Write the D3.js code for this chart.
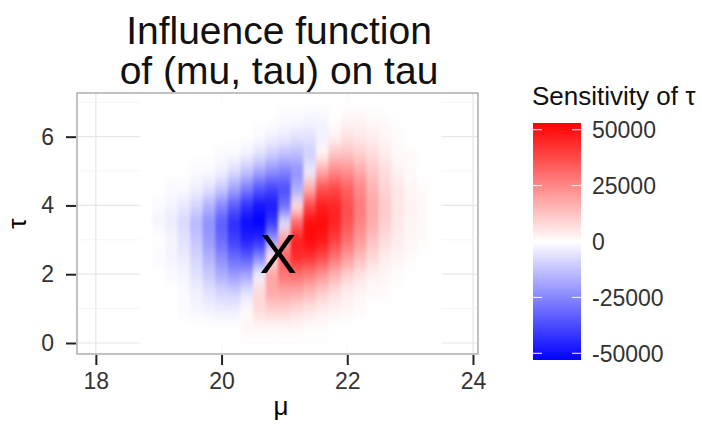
<!DOCTYPE html>
<html lang="en">
<head>
<meta charset="UTF-8">
<title>Influence function of (mu, tau) on tau</title>
<script src="https://d3js.org/d3.v7.min.js"></script>
<style>
    body { margin: 0; background: #fff; }
    svg { display: block; font-family: "Liberation Sans", Arial, Helvetica, sans-serif; }
</style>
</head>
<body>
<svg width="702" height="426"></svg>
<script>
    // Grid of mu (columns) and tau (rows)
    const muValues = [18.8, 19.0, 19.2, 19.4, 19.6, 19.8, 20.0, 20.2, 20.4, 20.6, 20.8, 21.0,
                      21.2, 21.4, 21.6, 21.8, 22.0, 22.2, 22.4, 22.6, 22.8, 23.0, 23.2, 23.4];
    const tauValues = [0.0, 0.5, 1.0, 1.5, 2.0, 2.5, 3.0, 3.5, 4.0, 4.5, 5.0, 5.5, 6.0, 6.5, 7.0];

    // Sensitivity of tau, in thousands (one row per tau value, one column per mu value)
    const sensitivityK = [
        [0, 0, 0, 0, 0, 0, 0, 0, 0, 0, 0, 0, 0, 0, 0, 0, 0, 0, 0, 0, 0, 0, 0, 0],
        [0, 0, 0, 0, 0, 0, 0, 0, 2, 2, 2, 2, 2, 1, 1, 0, 0, 0, 0, 0, 0, 0, 0, 0],
        [0, 0, 0, -1, -2, -3, -4, -4, 1, 8, 10, 10, 8, 6, 4, 3, 2, 1, 0, 0, 0, 0, 0, 0],
        [0, 0, 0, -1, -3, -6, -9, -10, -6, 8, 18, 19, 18, 15, 11, 7, 4, 2, 1, 1, 0, 0, 0, 0],
        [0, 0, -1, -2, -6, -11, -17, -21, -19, -3, 19, 29, 30, 27, 22, 16, 10, 6, 3, 2, 1, 0, 0, 0],
        [0, -1, -2, -4, -9, -16, -24, -31, -34, -25, 5, 33, 44, 43, 38, 29, 21, 14, 8, 4, 2, 1, 0, 0],
        [0, 0, -2, -6, -12, -21, -31, -40, -46, -44, -20, 20, 47, 51, 48, 40, 30, 21, 13, 7, 4, 2, 1, 0],
        [0, -2, -4, -8, -15, -23, -34, -44, -51, -53, -41, -6, 32, 51, 51, 46, 36, 26, 17, 10, 5, 2, 1, 0],
        [0, -1, -2, -5, -9, -16, -25, -34, -43, -49, -48, -30, 6, 38, 47, 45, 37, 27, 18, 11, 5, 3, 1, 0],
        [0, 0, -1, -1, -3, -6, -11, -19, -27, -35, -39, -37, -17, 17, 36, 38, 33, 25, 16, 9, 5, 2, 1, 0],
        [0, 0, 0, 0, -1, -1, -3, -7, -12, -18, -23, -26, -23, -4, 18, 25, 23, 18, 12, 7, 3, 1, 0, 0],
        [0, 0, 0, 0, 0, 0, -1, -1, -3, -6, -10, -13, -14, -10, 2, 12, 13, 10, 7, 4, 1, 1, 0, 0],
        [0, 0, 0, 0, 0, 0, 0, 0, 0, -1, -3, -4, -6, -6, -3, 3, 6, 5, 4, 2, 1, 0, 0, 0],
        [0, 0, 0, 0, 0, 0, 0, 0, 0, 0, 0, -1, -1, -2, -2, 0, 2, 2, 1, 1, 0, 0, 0, 0],
        [0, 0, 0, 0, 0, 0, 0, 0, 0, 0, 0, 0, 0, 0, 0, 0, 0, 0, 0, 0, 0, 0, 0, 0]
    ];

    const muTicks = [18, 20, 22, 24];
    const tauTicks = [0, 2, 4, 6];
    const legendTicks = [50000, 25000, 0, -25000, -50000];
    const estimate = [20.9, 2.62];   // (mu, tau) marked with an X
    const titleLines = ["Influence function", "of (mu, tau) on tau"];

    const svg = d3.select("svg");
    const panel = { left: 77, right: 478, top: 93, bottom: 354 };

    const x = d3.scaleLinear().domain([17.7, 24.08]).range([panel.left, panel.right]);
    const y = d3.scaleLinear().domain([-0.32, 7.27]).range([panel.bottom, panel.top]);

    // Flatten the grid into cells
    const cells = [];
    tauValues.forEach((t, i) => {
        muValues.forEach((m, j) => cells.push({ mu: m, tau: t, value: sensitivityK[i][j] * 1000 }));
    });
    const muStep = muValues[1] - muValues[0];
    const tauStep = tauValues[1] - tauValues[0];

    const maxAbs = d3.max(cells, d => Math.abs(d.value));
    const color = d3.scaleLinear()
        .domain([-maxAbs, 0, maxAbs])
        .range(["#0000ff", "#ffffff", "#ff0000"])
        .interpolate(d3.interpolateRgb)
        .clamp(true);

    const defs = svg.append("defs");
    defs.append("clipPath").attr("id", "panel-clip")
        .append("rect")
        .attr("x", panel.left).attr("y", panel.top)
        .attr("width", panel.right - panel.left).attr("height", panel.bottom - panel.top);

    // smooth the raster mostly along tau, like the original image
    const blur = defs.append("filter").attr("id", "smooth")
        .attr("x", "-5%").attr("y", "-5%").attr("width", "110%").attr("height", "110%")
        .attr("color-interpolation-filters", "sRGB");
    blur.append("feGaussianBlur").attr("stdDeviation", "1.4 7");

    // Panel background and grid
    svg.append("rect")
        .attr("x", panel.left).attr("y", panel.top)
        .attr("width", panel.right - panel.left).attr("height", panel.bottom - panel.top)
        .attr("fill", "#fff");

    const grid = svg.append("g").attr("clip-path", "url(#panel-clip)");
    const muGrid = x.ticks(7), tauGrid = y.ticks(8).filter(v => v >= 0);
    grid.selectAll(".vgrid").data(muGrid).join("line")
        .attr("x1", d => x(d)).attr("x2", d => x(d))
        .attr("y1", panel.top).attr("y2", panel.bottom)
        .attr("stroke", d => muTicks.includes(d) ? "#e6e6e6" : "#f2f2f2")
        .attr("stroke-width", d => muTicks.includes(d) ? 1.2 : 0.8);
    grid.selectAll(".hgrid").data(tauGrid).join("line")
        .attr("y1", d => y(d)).attr("y2", d => y(d))
        .attr("x1", panel.left).attr("x2", panel.right)
        .attr("stroke", d => tauTicks.includes(d) ? "#e6e6e6" : "#f2f2f2")
        .attr("stroke-width", d => tauTicks.includes(d) ? 1.2 : 0.8);

    // Heatmap
    const heat = svg.append("g").attr("clip-path", "url(#panel-clip)")
        .append("g").attr("filter", "url(#smooth)");
    heat.selectAll("rect").data(cells).join("rect")
        .attr("x", d => x(d.mu - muStep / 2))
        .attr("y", d => y(d.tau + tauStep / 2))
        .attr("width", d => x(d.mu + muStep / 2) - x(d.mu - muStep / 2) + 0.5)
        .attr("height", d => y(d.tau - tauStep / 2) - y(d.tau + tauStep / 2) + 0.5)
        .attr("fill", d => color(d.value));

    // Estimate marker
    svg.append("text")
        .attr("x", x(estimate[0]))
        .attr("y", y(estimate[1]))
        .attr("dy", "0.36em")
        .attr("text-anchor", "middle")
        .attr("font-size", 56)
        .attr("fill", "#000")
        .text("X");

    // Panel border
    svg.append("rect")
        .attr("x", panel.left).attr("y", panel.top)
        .attr("width", panel.right - panel.left).attr("height", panel.bottom - panel.top)
        .attr("fill", "none").attr("stroke", "#999").attr("stroke-width", 1.2);

    // Axes
    const yAxis = svg.append("g")
        .attr("transform", `translate(${panel.left - 1},0)`)
        .call(d3.axisLeft(y).tickValues(tauTicks).tickFormat(d3.format("d")).tickSize(10).tickPadding(12));
    const xAxis = svg.append("g")
        .attr("transform", `translate(0,${panel.bottom + 1})`)
        .call(d3.axisBottom(x).tickValues(muTicks).tickFormat(d3.format("d")).tickSize(10).tickPadding(8));
    [xAxis, yAxis].forEach(a => {
        a.select(".domain").remove();
        a.selectAll(".tick line").attr("stroke", "#222").attr("stroke-width", 2);
        a.selectAll(".tick text")
            .attr("fill", "#333")
            .attr("font-size", 23)
            .attr("font-family", "'Liberation Sans', Arial, Helvetica, sans-serif");
    });

    // Axis titles
    svg.append("text")
        .attr("x", 281).attr("y", 415)
        .attr("text-anchor", "middle")
        .attr("font-size", 26)
        .text("μ");
    svg.append("text")
        .attr("transform", `translate(26,${(panel.top + panel.bottom) / 2}) rotate(-90)`)
        .attr("text-anchor", "middle")
        .attr("font-size", 26)
        .text("τ");

    // Title
    svg.append("g").selectAll("text").data(titleLines).join("text")
        .attr("x", 279)
        .attr("y", (d, i) => 44 + i * 40)
        .attr("text-anchor", "middle")
        .attr("font-size", 39)
        .attr("fill", "#111")
        .text(d => d);

    // Legend (colour bar)
    const bar = { x: 533, width: 48, top: 123, bottom: 360 };
    const yl = d3.scaleLinear().domain([-maxAbs, maxAbs]).range([bar.bottom, bar.top]);

    const grad = defs.append("linearGradient").attr("id", "bar-grad")
        .attr("x1", 0).attr("y1", 1).attr("x2", 0).attr("y2", 0);
    grad.selectAll("stop").data(d3.range(0, 1.0001, 0.05)).join("stop")
        .attr("offset", d => d)
        .attr("stop-color", d => color(-maxAbs + d * 2 * maxAbs));

    svg.append("text")
        .attr("x", 532).attr("y", 105)
        .attr("font-size", 26)
        .attr("fill", "#111")
        .text("Sensitivity of τ");

    svg.append("rect")
        .attr("x", bar.x).attr("y", bar.top)
        .attr("width", bar.width).attr("height", bar.bottom - bar.top)
        .attr("fill", "url(#bar-grad)");

    const lt = svg.append("g");
    lt.selectAll(".tl").data(legendTicks).join("line")
        .attr("x1", bar.x).attr("x2", bar.x + 9)
        .attr("y1", d => yl(d)).attr("y2", d => yl(d))
        .attr("stroke", "#fff").attr("stroke-width", 1);
    lt.selectAll(".tr").data(legendTicks).join("line")
        .attr("x1", bar.x + bar.width - 9).attr("x2", bar.x + bar.width)
        .attr("y1", d => yl(d)).attr("y2", d => yl(d))
        .attr("stroke", "#fff").attr("stroke-width", 1);
    lt.selectAll("text").data(legendTicks).join("text")
        .attr("x", 592)
        .attr("y", d => yl(d))
        .attr("dy", "0.36em")
        .attr("font-size", 23)
        .attr("fill", "#333")
        .text(d => d);
</script>
</body>
</html>
